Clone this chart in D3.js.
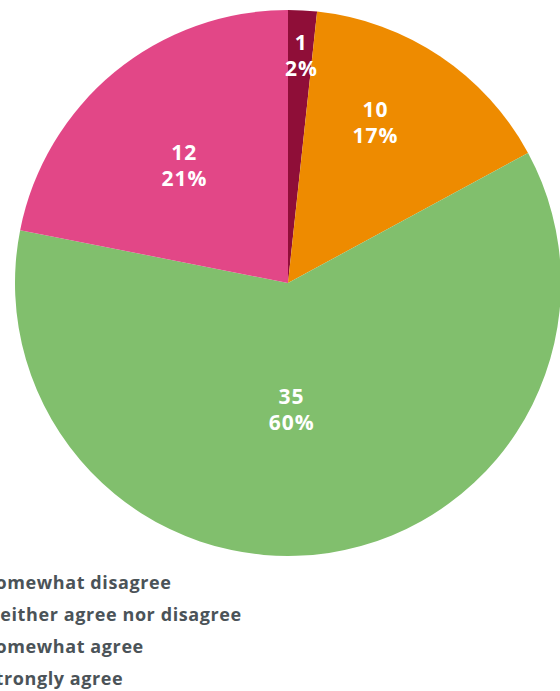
<!DOCTYPE html>
<html>
<head>
<meta charset="utf-8">
<script src="https://cdn.jsdelivr.net/npm/d3@7"></script>
<style>
  body { margin: 0; background: #fff; overflow: hidden; }
  svg { display: block; font-family: "Open Sans", "Noto Sans", sans-serif; }
</style>
</head>
<body>
<div id="chart"></div>
<script>
// categories and values
const categories = ["Somewhat disagree", "Neither agree nor disagree", "Somewhat agree", "Strongly agree"];
const counts = [1, 10, 35, 12];
const percentLabels = ["2%", "17%", "60%", "21%"];
// share of the circle each slice actually covers in the picture (degrees / 3.6)
const drawnShare = [1.7, 15.4, 61.0, 21.9];
const colors = ["#8f0e38", "#ee8b00", "#81bf6d", "#e24787"];

const width = 560, height = 691;
const radius = 273;
const cx = 288, cy = 283;

// label placement: distance from centre (fraction of radius) and small angle nudge (deg)
const labelRadius = [0.835, 0.67, 0.46, 0.575];
const labelNudge = [0.3, -5.3, 7, -1.9];

const svg = d3.select("#chart").append("svg")
  .attr("width", width)
  .attr("height", height);

const data = categories.map((c, i) => ({
  name: c, count: counts[i], pct: percentLabels[i], share: drawnShare[i], color: colors[i], i: i
}));

const pie = d3.pie().sort(null).value(d => d.share);
const arcs = pie(data);

const arc = d3.arc().innerRadius(0).outerRadius(radius);

const g = svg.append("g").attr("transform", `translate(${cx},${cy})`);

g.selectAll("path.slice")
  .data(arcs)
  .join("path")
  .attr("class", "slice")
  .attr("d", arc)
  .attr("fill", d => d.data.color);

// value + percent labels
const labels = g.selectAll("text.lbl")
  .data(arcs)
  .join("text")
  .attr("class", "lbl")
  .attr("transform", d => {
    const r = radius * labelRadius[d.data.i];
    const a = (d.startAngle + d.endAngle) / 2 + labelNudge[d.data.i] * Math.PI / 180;
    return `translate(${r * Math.sin(a)},${-r * Math.cos(a)})`;
  })
  .attr("text-anchor", "middle")
  .attr("fill", "#fff")
  .style("font-size", "21px")
  .style("font-weight", "700")
  .style("letter-spacing", "1px");

labels.append("tspan").attr("x", 0).attr("y", -5).text(d => d.data.count);
labels.append("tspan").attr("x", 0).attr("y", 21).text(d => d.data.pct);

// legend (left part falls outside the picture like in the original)
const legend = svg.append("g").attr("transform", "translate(-15, 583)");

const item = legend.selectAll("g")
  .data(data)
  .join("g")
  .attr("transform", (d, i) => `translate(0,${i * 32})`);

item.append("rect")
  .attr("x", -38)
  .attr("y", -8)
  .attr("width", 16)
  .attr("height", 16)
  .attr("fill", d => d.color);

item.append("text")
  .attr("x", 0)
  .attr("y", 0)
  .attr("dy", "0.35em")
  .attr("fill", "#4b5358")
  .style("font-size", "18px")
  .style("font-weight", "700")
  .style("letter-spacing", "0.6px")
  .text(d => d.name);
</script>
</body>
</html>
